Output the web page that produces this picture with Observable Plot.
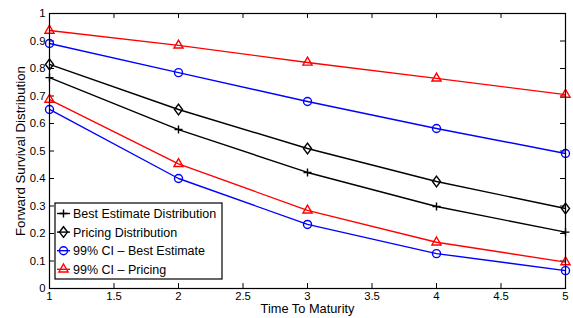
<!DOCTYPE html>
<html>
<head>
<meta charset="utf-8">
<script src="https://cdn.jsdelivr.net/npm/d3@7"></script>
<script src="https://cdn.jsdelivr.net/npm/@observablehq/plot@0.6"></script>
<style>
  html, body { margin: 0; padding: 0; background: #fff; }
  #chart { position: relative; width: 573px; height: 318px; }
</style>
</head>
<body>
<div id="chart"></div>
<script>
const maturities = [1, 2, 3, 4, 5];
const seriesNames = ["Best Estimate Distribution", "Pricing Distribution", "99% CI \u2013 Best Estimate", "99% CI \u2013 Pricing"];
const bestEstimate = [0.767, 0.578, 0.422, 0.298, 0.205];
const pricing = [0.815, 0.651, 0.509, 0.389, 0.291];
const ciBestLow = [0.651, 0.400, 0.233, 0.127, 0.065];
const ciBestHigh = [0.891, 0.785, 0.680, 0.582, 0.491];
const ciPricingLow = [0.687, 0.453, 0.284, 0.168, 0.096];
const ciPricingHigh = [0.938, 0.884, 0.822, 0.764, 0.705];
const xTicks = [1, 1.5, 2, 2.5, 3, 3.5, 4, 4.5, 5];
const yTicks = [0, 0.1, 0.2, 0.3, 0.4, 0.5, 0.6, 0.7, 0.8, 0.9, 1];
const xLabel = "Time To Maturity";
const yLabel = "Forward Survival Distribution";

// Matlab-like diamond (rhombus 0.75 wide:tall)
const matDiamond = {
  draw(context, size) {
    const h = Math.sqrt(size / 1.5), w = 0.75 * h;
    context.moveTo(0, -h);
    context.lineTo(w, 0);
    context.lineTo(0, h);
    context.lineTo(-w, 0);
    context.closePath();
  }
};

const styles = [
  {name: seriesNames[0], color: "#000000", symbol: d3.symbolPlus, r: 2.7},
  {name: seriesNames[1], color: "#000000", symbol: matDiamond, r: 3.7},
  {name: seriesNames[2], color: "#0000ff", symbol: d3.symbolCircle, r: 4},
  {name: seriesNames[3], color: "#ff0000", symbol: d3.symbolTriangle, r: 3.4}
];

const curves = [
  {style: 0, values: bestEstimate},
  {style: 1, values: pricing},
  {style: 2, values: ciBestLow},
  {style: 2, values: ciBestHigh},
  {style: 3, values: ciPricingLow},
  {style: 3, values: ciPricingHigh}
];

const marks = [];
curves.forEach((c) => {
  const st = styles[c.style];
  const data = maturities.map((m, j) => ({x: m, y: c.values[j]}));
  marks.push(Plot.line(data, {x: "x", y: "y", stroke: st.color, strokeWidth: 1.4}));
  marks.push(Plot.dot(data, {x: "x", y: "y", stroke: st.color, fill: "none", symbol: st.symbol, r: st.r, strokeWidth: 1.4}));
});

const chart = Plot.plot({
  width: 573,
  height: 318,
  marginLeft: 49,
  marginRight: 8,
  marginTop: 13,
  marginBottom: 30,
  style: {fontFamily: "'Liberation Sans', Arial, sans-serif", fontSize: "11px", color: "#000", background: "#fff"},
  x: {domain: [1, 5], ticks: xTicks, label: null},
  y: {domain: [0, 1], ticks: yTicks, label: null},
  marks: [
    Plot.axisX(xTicks, {tickSize: 0, tickPadding: 3, label: null, tickFormat: d => String(d), fontSize: 11.3}),
    Plot.axisY(yTicks, {tickSize: 0, tickPadding: 4, label: null, tickFormat: d => String(d), fontSize: 11.3}),
    Plot.text([xLabel], {text: d => d, frameAnchor: "bottom", lineAnchor: "middle", dy: 20.5, fontSize: 12.8, fill: "#000", textAnchor: "middle"}),
    Plot.text([yLabel], {text: d => d, frameAnchor: "left", lineAnchor: "middle", rotate: -90, dx: -29, fontSize: 12.5, fill: "#000", textAnchor: "middle"}),
    Plot.ruleX(xTicks, {x: d => d, y1: 0, y2: 0.018, stroke: "#000", strokeWidth: 1}),
    Plot.ruleX(xTicks, {x: d => d, y1: 1, y2: 0.982, stroke: "#000", strokeWidth: 1}),
    Plot.ruleY(yTicks, {y: d => d, x1: 1, x2: 1.039, stroke: "#000", strokeWidth: 1}),
    Plot.ruleY(yTicks, {y: d => d, x1: 5, x2: 4.961, stroke: "#000", strokeWidth: 1}),
    ...marks,
    Plot.frame({stroke: "#000", strokeWidth: 1.2})
  ]
});

document.getElementById("chart").appendChild(chart);

const svg = d3.select(chart.tagName.toLowerCase() === "svg" ? chart : chart.querySelector("svg"));
// stretch the y-axis title to the reference's length
svg.selectAll("text").filter(function () { return this.textContent === yLabel; })
  .attr("textLength", 170).attr("lengthAdjust", "spacingAndGlyphs");

// Legend drawn inside the plot's SVG
const lg = svg.append("g").attr("transform", "translate(55,203)");
lg.append("rect").attr("width", 167).attr("height", 76).attr("fill", "#fff").attr("stroke", "#000").attr("stroke-width", 1.2);
styles.forEach((st, i) => {
  const y = 10.5 + i * 18.6;
  const g = lg.append("g").attr("transform", `translate(0,${y})`);
  g.append("line").attr("x1", 2).attr("x2", 15).attr("y1", 0).attr("y2", 0).attr("stroke", st.color).attr("stroke-width", 1.4);
  g.append("path").attr("transform", "translate(8.5,0)")
    .attr("d", d3.symbol(st.symbol, Math.PI * st.r * st.r)())
    .attr("fill", "none").attr("stroke", st.color).attr("stroke-width", 1.4);
  g.append("text").attr("x", 18).attr("y", 0).attr("dy", "0.36em")
    .attr("text-anchor", "start")
    .attr("font-size", 12.5).attr("font-family", "'Liberation Sans', Arial, sans-serif").attr("fill", "#000")
    .text(st.name);
});
</script>
</body>
</html>
